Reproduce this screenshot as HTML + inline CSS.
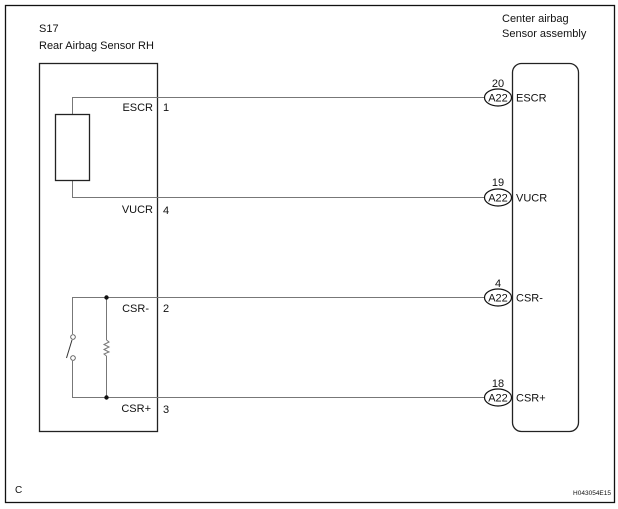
<!DOCTYPE html>
<html><head><meta charset="utf-8"><style>
html,body{margin:0;padding:0;background:#fff;}
svg{display:block;}
text{font-family:"Liberation Sans",Arial,sans-serif;fill:#111;}
</style></head><body>
<svg width="618" height="509" viewBox="0 0 618 509" xmlns="http://www.w3.org/2000/svg">
<rect x="5.5" y="5.5" width="609" height="497" fill="none" stroke="#111" stroke-width="1.3"/>
<text x="39" y="32" font-size="11">S17</text>
<text x="39" y="49" font-size="11">Rear Airbag Sensor RH</text>
<text x="502" y="22" font-size="11">Center airbag</text>
<text x="502" y="37" font-size="11">Sensor assembly</text>
<!-- left box -->
<rect x="39.5" y="63.5" width="118" height="368" fill="none" stroke="#222" stroke-width="1.3"/>
<!-- wires -->
<g stroke="#777" stroke-width="1" fill="none">
<polyline points="72.5,114 72.5,97.5 484,97.5"/>
<polyline points="72.5,181 72.5,197.5 484,197.5"/>
<polyline points="72.5,334 72.5,297.5 484,297.5"/>
<polyline points="72.5,361 72.5,397.5 484,397.5"/>
<line x1="106.5" y1="297.5" x2="106.5" y2="340"/>
<line x1="106.5" y1="356" x2="106.5" y2="397.5"/>
<polyline points="106.5,340 109,342 104,344.5 109,347 104,349.5 109,352 104,354 106.5,356"/>
<line x1="66.5" y1="358" x2="72" y2="340" stroke="#333"/>
</g>
<circle cx="73" cy="337" r="2.3" fill="#fff" stroke="#555" stroke-width="0.9"/>
<circle cx="73" cy="358" r="2.3" fill="#fff" stroke="#555" stroke-width="0.9"/>
<circle cx="106.5" cy="297.5" r="2.2" fill="#111"/>
<circle cx="106.5" cy="397.5" r="2.2" fill="#111"/>
<rect x="55.5" y="114.5" width="34" height="66" fill="#fff" stroke="#222" stroke-width="1.3"/>
<!-- left labels -->
<g font-size="11">
<text x="153" y="111" text-anchor="end">ESCR</text><text x="163" y="111">1</text>
<text x="153" y="213" text-anchor="end">VUCR</text><text x="163" y="214">4</text>
<text x="149" y="312" text-anchor="end">CSR-</text><text x="163" y="312">2</text>
<text x="151" y="412" text-anchor="end">CSR+</text><text x="163" y="413">3</text>
</g>
<!-- right box -->
<rect x="512.5" y="63.5" width="66" height="368" rx="9" fill="#fff" stroke="#222" stroke-width="1.3"/>
<!-- connectors -->
<g font-size="11">
<ellipse cx="498" cy="97.5" rx="13.5" ry="8.5" fill="#fff" stroke="#111" stroke-width="1.2"/>
<text x="498" y="101.5" text-anchor="middle">A22</text><text x="498" y="87" text-anchor="middle">20</text><text x="516" y="101.5">ESCR</text>
<ellipse cx="498" cy="197.5" rx="13.5" ry="8.5" fill="#fff" stroke="#111" stroke-width="1.2"/>
<text x="498" y="201.5" text-anchor="middle">A22</text><text x="498" y="186" text-anchor="middle">19</text><text x="516" y="201.5">VUCR</text>
<ellipse cx="498" cy="297.5" rx="13.5" ry="8.5" fill="#fff" stroke="#111" stroke-width="1.2"/>
<text x="498" y="301.5" text-anchor="middle">A22</text><text x="498" y="287" text-anchor="middle">4</text><text x="516" y="301.5">CSR-</text>
<ellipse cx="498" cy="397.5" rx="13.5" ry="8.5" fill="#fff" stroke="#111" stroke-width="1.2"/>
<text x="498" y="401.5" text-anchor="middle">A22</text><text x="498" y="387" text-anchor="middle">18</text><text x="516" y="401.5">CSR+</text>
</g>
<text x="15" y="493" font-size="10">C</text>
<text x="611" y="495" font-size="6.5" text-anchor="end">H043054E15</text>
</svg>
</body></html>
